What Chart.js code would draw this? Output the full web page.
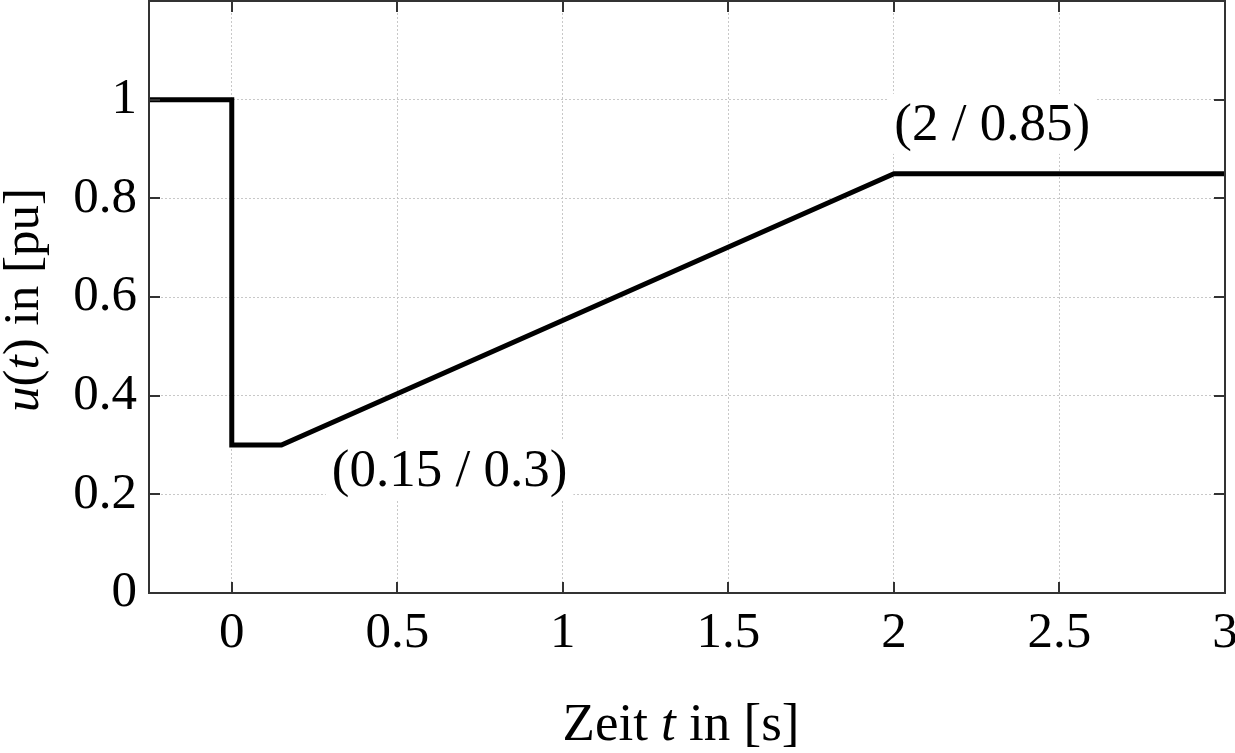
<!DOCTYPE html>
<html>
<head>
<meta charset="utf-8">
<script src="https://cdn.jsdelivr.net/npm/chart.js@4/dist/chart.umd.min.js"></script>
<style>
  body { margin: 0; background: #fff; }
  #wrap { width: 1235px; height: 753px; }
</style>
</head>
<body>
<div id="wrap"><canvas id="myChart"></canvas></div>
<script>
// voltage profile u(t)
var timeValues = [-0.25, 0, 0, 0.15, 2, 3];
var voltageValues = [1, 1, 0.3, 0.3, 0.85, 0.85];

var xTicks = [0, 0.5, 1, 1.5, 2, 2.5, 3];
var yTicks = [0, 0.2, 0.4, 0.6, 0.8, 1];

var noteTexts = ['(0.15 / 0.3)', '(2 / 0.85)'];

var FONT = '"Liberation Serif", "Times New Roman", serif';

// where the two point labels sit (in axis units)
var notePlaces = [{x: 0.658, y: 0.25}, {x: 2.297, y: 0.951}];

function drawParts(ctx, parts, size) {
    var total = 0;
    parts.forEach(function (p) {
        ctx.font = (p[1] ? 'italic ' : '') + size + 'px ' + FONT;
        total += ctx.measureText(p[0]).width;
    });
    var x = -total / 2;
    parts.forEach(function (p) {
        ctx.font = (p[1] ? 'italic ' : '') + size + 'px ' + FONT;
        ctx.fillText(p[0], x, 0);
        x += ctx.measureText(p[0]).width;
    });
}

var framePlugin = {
    id: 'frame',
    beforeDatasetsDraw: function (chart) {
        var ctx = chart.ctx;
        var xs = chart.scales.x, ys = chart.scales.y;
        ctx.save();
        ctx.font = '53px ' + FONT;
        ctx.textAlign = 'center';
        ctx.textBaseline = 'middle';
        noteTexts.forEach(function (t, i) {
            var cx = xs.getPixelForValue(notePlaces[i].x);
            var cy = ys.getPixelForValue(notePlaces[i].y);
            var w = ctx.measureText(t).width + 12;
            ctx.fillStyle = '#fff';
            ctx.fillRect(cx - w / 2, cy - 30, w, 60);
            ctx.fillStyle = '#000';
            ctx.fillText(t, cx, cy + 2);
        });
        ctx.restore();
    },
    afterDraw: function (chart) {
        var ctx = chart.ctx;
        var a = chart.chartArea;
        var xs = chart.scales.x, ys = chart.scales.y;
        ctx.save();
        ctx.strokeStyle = '#333';
        ctx.lineWidth = 2;
        ctx.strokeRect(a.left, a.top, a.right - a.left, a.bottom - a.top);
        ctx.beginPath();
        xTicks.forEach(function (v) {
            var px = Math.round(xs.getPixelForValue(v));
            ctx.moveTo(px, a.bottom); ctx.lineTo(px, a.bottom - 11);
            ctx.moveTo(px, a.top); ctx.lineTo(px, a.top + 11);
        });
        yTicks.forEach(function (v) {
            var py = Math.round(ys.getPixelForValue(v));
            ctx.moveTo(a.left, py); ctx.lineTo(a.left + 11, py);
            ctx.moveTo(a.right, py); ctx.lineTo(a.right - 11, py);
        });
        ctx.stroke();

        // axis titles
        ctx.fillStyle = '#000';
        ctx.textBaseline = 'alphabetic';
        ctx.textAlign = 'left';
        ctx.save();
        ctx.translate((a.left + a.right) / 2 - 6, 740);
        drawParts(ctx, [['Zeit ', false], ['t', true], [' in [s]', false]], 53);
        ctx.restore();
        ctx.save();
        ctx.translate(38, 300);
        ctx.rotate(-Math.PI / 2);
        drawParts(ctx, [['u', true], ['(', false], ['t', true], [') in [pu]', false]], 51);
        ctx.restore();
        ctx.restore();
    }
};

function renderChart() {
    var ctx = document.getElementById('myChart').getContext('2d');
    var points = timeValues.map(function (t, i) { return {x: t, y: voltageValues[i]}; });
    var myChart = new Chart(ctx, {
        type: 'scatter',
        data: {
            datasets: [{
                data: points,
                showLine: true,
                borderColor: '#000',
                borderWidth: 5,
                pointRadius: 0,
                tension: 0,
                fill: false
            }]
        },
        options: {
            responsive: true,
            maintainAspectRatio: false,
            animation: false,
            events: [],
            layout: {padding: {top: 1, right: 10, left: 0, bottom: 0}},
            plugins: {legend: {display: false}, tooltip: {enabled: false}},
            scales: {
                x: {
                    type: 'linear',
                    min: -0.25,
                    max: 3,
                    afterBuildTicks: function (s) { s.ticks = xTicks.map(function (v) { return {value: v}; }); },
                    afterFit: function (s) {
                        s.height = 160;
                        s.paddingLeft = 0; s.paddingRight = 0;
                    },
                    grid: {color: '#c8c8c8', lineWidth: 1, drawTicks: false},
                    border: {display: false, dash: [2, 2]},
                    ticks: {
                        color: '#000',
                        font: {family: FONT, size: 51},
                        padding: 10,
                        maxRotation: 0,
                        autoSkip: false,
                        callback: function (v) { return String(v); }
                    }
                },
                y: {
                    type: 'linear',
                    min: 0,
                    max: 1.2,
                    afterBuildTicks: function (s) { s.ticks = yTicks.map(function (v) { return {value: v}; }); },
                    afterFit: function (s) {
                        s.width = 149;
                        s.paddingTop = 0; s.paddingBottom = 0;
                    },
                    grid: {color: '#c8c8c8', lineWidth: 1, drawTicks: false},
                    border: {display: false, dash: [2, 2]},
                    ticks: {
                        color: '#000',
                        font: {family: FONT, size: 51},
                        padding: 12,
                        autoSkip: false,
                        callback: function (v) { return String(Math.round(v * 10) / 10); }
                    }
                }
            }
        },
        plugins: [framePlugin]
    });
}

renderChart();
</script>
</body>
</html>
